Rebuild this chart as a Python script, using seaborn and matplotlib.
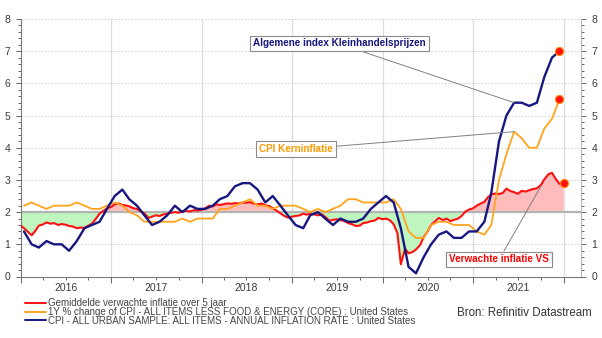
import numpy as np
import pandas as pd
import matplotlib
matplotlib.use("Agg")
import matplotlib.pyplot as plt
import matplotlib.dates as mdates
from matplotlib.ticker import MultipleLocator, FuncFormatter, NullFormatter
import seaborn as sns

# ---------------- data ----------------
# CPI all items, annual inflation rate (monthly, Jan 2016 - Dec 2021)
cpi_headline = [1.4, 1.0, 0.9, 1.1, 1.0, 1.0, 0.8, 1.1, 1.5, 1.6, 1.7, 2.1,
                2.5, 2.7, 2.4, 2.2, 1.9, 1.6, 1.7, 1.9, 2.2, 2.0, 2.2, 2.1,
                2.1, 2.2, 2.4, 2.5, 2.8, 2.9, 2.9, 2.7, 2.3, 2.5, 2.2, 1.9,
                1.6, 1.5, 1.9, 2.0, 1.8, 1.6, 1.8, 1.7, 1.7, 1.8, 2.1, 2.3,
                2.5, 2.3, 1.5, 0.3, 0.1, 0.6, 1.0, 1.3, 1.4, 1.2, 1.2, 1.4,
                1.4, 1.7, 2.6, 4.2, 5.0, 5.4, 5.4, 5.3, 5.4, 6.2, 6.8, 7.0]
# Core CPI (less food & energy), 1Y % change (monthly, Jan 2016 - Dec 2021)
cpi_core = [2.2, 2.3, 2.2, 2.1, 2.2, 2.2, 2.2, 2.3, 2.2, 2.1, 2.1, 2.2,
            2.3, 2.2, 2.0, 1.9, 1.7, 1.7, 1.7, 1.7, 1.7, 1.8, 1.7, 1.8,
            1.8, 1.8, 2.1, 2.1, 2.2, 2.3, 2.4, 2.2, 2.2, 2.1, 2.2, 2.2,
            2.2, 2.1, 2.0, 2.1, 2.0, 2.1, 2.2, 2.4, 2.4, 2.3, 2.3, 2.3,
            2.3, 2.4, 2.1, 1.4, 1.2, 1.2, 1.6, 1.7, 1.7, 1.6, 1.6, 1.6,
            1.4, 1.3, 1.6, 3.0, 3.8, 4.5, 4.3, 4.0, 4.0, 4.6, 4.9, 5.5]
# Average expected inflation over 5 years (semi-monthly, Jan 2016 - Jan 2022)
breakeven = [1.59, 1.50, 1.38, 1.28, 1.42, 1.58, 1.62, 1.68, 1.64, 1.66,
             1.60, 1.63, 1.61, 1.57, 1.55, 1.50, 1.52, 1.51, 1.58, 1.64,
             1.80, 1.95, 2.04, 2.12, 2.16, 2.24, 2.27, 2.22, 2.21, 2.18,
             2.12, 2.10, 2.02, 1.96, 1.82, 1.86, 1.90, 1.88, 1.93, 1.95,
             1.98, 2.00, 1.98, 2.03, 2.04, 2.02, 2.06, 2.05, 2.07, 2.12,
             2.20, 2.18, 2.24, 2.22, 2.25, 2.27, 2.26, 2.28, 2.27, 2.30,
             2.29, 2.31, 2.26, 2.24, 2.27, 2.21, 2.19, 2.12, 2.04, 1.96,
             1.88, 1.83, 1.86, 1.88, 1.90, 1.95, 1.92, 1.95, 1.93, 1.90,
             1.93, 1.85, 1.73, 1.76, 1.78, 1.75, 1.72, 1.66, 1.62, 1.57,
             1.58, 1.66, 1.68, 1.72, 1.74, 1.82, 1.78, 1.80, 1.74, 1.62,
             1.35, 0.38, 0.86, 0.72, 0.76, 0.84, 0.98, 1.22, 1.40, 1.60,
             1.72, 1.82, 1.75, 1.80, 1.72, 1.76, 1.80, 1.88, 2.02, 2.08,
             2.12, 2.20, 2.27, 2.32, 2.46, 2.55, 2.58, 2.56, 2.60, 2.73,
             2.65, 2.62, 2.57, 2.66, 2.64, 2.68, 2.72, 2.74, 2.84, 3.02,
             3.18, 3.22, 3.02, 2.88, 2.90]

labels = ["Gemiddelde verwachte inflatie over 5 jaar",
          "1Y % change of CPI - ALL ITEMS LESS FOOD & ENERGY (CORE) : United States",
          "CPI - ALL URBAN SAMPLE: ALL ITEMS - ANNUAL INFLATION RATE : United States"]
target = 2.0

m_dates = pd.date_range("2016-01-01", periods=len(cpi_headline), freq="MS") + pd.Timedelta(days=14)
r_dates = pd.date_range("2016-01-01", periods=len(breakeven), freq="SMS")
be = np.array(breakeven)

RED = "#ff1010"
ORANGE = "#ffa41c"
NAVY = "#17177f"

# ---------------- style ----------------
sns.set_theme(style="white")
plt.rcParams["font.family"] = ["Liberation Sans", "DejaVu Sans"]

fig = plt.figure(figsize=(6.02, 3.38), dpi=100)
W, H = 602, 338
ax = fig.add_axes([20.5 / W, 1 - 276.5 / H, (581 - 20.5) / W, (276.5 - 19) / H])

# fills relative to the 2% target
ax.fill_between(r_dates, be, target, where=be < target, interpolate=True,
                color="#bff5bf", lw=0, zorder=1)
ax.fill_between(r_dates, be, target, where=be >= target, interpolate=True,
                color="#ffbcbc", lw=0, zorder=1)
ax.axhline(target, color="#b4b4b4", lw=1.6, zorder=1.5)

sns.lineplot(x=r_dates, y=breakeven, ax=ax, color=RED, lw=1.5, label=labels[0], zorder=3)
sns.lineplot(x=m_dates, y=cpi_core, ax=ax, color=ORANGE, lw=1.3, label=labels[1], zorder=3.1)
sns.lineplot(x=m_dates, y=cpi_headline, ax=ax, color=NAVY, lw=1.7, label=labels[2], zorder=3.2)

# end markers
for xd, yd in [(m_dates[-1], cpi_headline[-1]), (m_dates[-1], cpi_core[-1]), (r_dates[-1], breakeven[-1])]:
    ax.scatter([xd], [yd], s=34, color=RED, edgecolor="#ff8a00", linewidth=0.8, zorder=6)

# axes
ax.set_xlim(pd.Timestamp("2016-01-01"), pd.Timestamp("2022-03-12"))
ax.set_ylim(0, 8)
ax.set_xlabel("")
ax.set_ylabel("")

ax.xaxis.set_major_locator(mdates.YearLocator())
ax.xaxis.set_major_formatter(NullFormatter())
ax.xaxis.set_minor_locator(mdates.MonthLocator(bymonth=[4, 7, 10]))
ax.xaxis.set_minor_formatter(FuncFormatter(
    lambda v, p: str(mdates.num2date(v).year) if mdates.num2date(v).month == 7 else ""))
ax.yaxis.set_major_locator(MultipleLocator(1))
ax.yaxis.set_minor_locator(MultipleLocator(0.2))

ax.tick_params(axis="x", which="major", direction="out", length=4, width=0.7,
               color="#666666", bottom=True)
ax.tick_params(axis="x", which="minor", direction="out", length=2.5, width=0.7,
               color="#666666", bottom=True, labelsize=7.5, labelcolor="#3a3a3a", pad=2.5)
ax.tick_params(axis="y", which="both", left=True, right=True, labelleft=True,
               labelright=True, direction="out", color="#666666", width=0.7)
ax.tick_params(axis="y", which="major", length=3.5, labelsize=7.5, labelcolor="#3a3a3a", pad=4)
ax.tick_params(axis="y", which="minor", length=2)

ax.grid(False)
ax.yaxis.grid(True, which="major", linestyle=(0, (2, 2)), color="#c8c8c8", lw=0.6, zorder=0)
ax.xaxis.grid(True, which="major", linestyle="-", color="#dddddd", lw=0.9, zorder=0)
ax.set_axisbelow(True)

ax.spines["top"].set_visible(False)
for s in ["left", "right", "bottom"]:
    ax.spines[s].set_color("#7a7a7a")
    ax.spines[s].set_linewidth(0.8)
ax.spines["right"].set_color("#b8b8b8")

# annotations
bbox = dict(boxstyle="square,pad=0.3", fc="white", ec="#8a8a8a", lw=0.8)
arrow = dict(arrowstyle="-", color="#808080", lw=0.7, shrinkA=0, shrinkB=0)
ax.annotate("Algemene index Kleinhandelsprijzen", xy=(m_dates[65], cpi_headline[65]),
            xytext=(339.5, H - 43.5), textcoords="figure pixels", ha="center", va="center",
            fontsize=7.1, fontweight="bold", color=NAVY, bbox=bbox,
            arrowprops=dict(arrow, relpos=(0.58, 0.0)), zorder=7)
ax.annotate("CPI Kerninflatie", xy=(m_dates[65], cpi_core[65]),
            xytext=(296, H - 149), textcoords="figure pixels", ha="center", va="center",
            fontsize=7.1, fontweight="bold", color="#ff9900", bbox=bbox,
            arrowprops=dict(arrow, relpos=(1.0, 0.75)), zorder=7)
ax.annotate("Verwachte inflatie VS", xy=(r_dates[138], 2.8),
            xytext=(499, H - 259.5), textcoords="figure pixels", ha="center", va="center",
            fontsize=7.1, fontweight="bold", color="#ff0000", bbox=bbox,
            arrowprops=dict(arrow, relpos=(0.53, 1.0)), zorder=7)

# legend below
handles, labs = ax.get_legend_handles_labels()
ax.legend_.remove()
leg = fig.legend(handles, labs, loc="upper left", bbox_to_anchor=(25 / W, 1 - 298.5 / H),
                 frameon=False, fontsize=7.0, handlelength=2.2, handletextpad=0.18,
                 labelspacing=-0.14, borderpad=0, borderaxespad=0)
for t in leg.get_texts():
    t.set_color("#444444")
for l in leg.get_lines():
    l.set_linewidth(1.4)

fig.text(592 / W, 1 - 313.5 / H, "Bron: Refinitiv Datastream", ha="right", va="center",
         fontsize=8.3, color="#333333")

fig.savefig("out.png", dpi=100)
